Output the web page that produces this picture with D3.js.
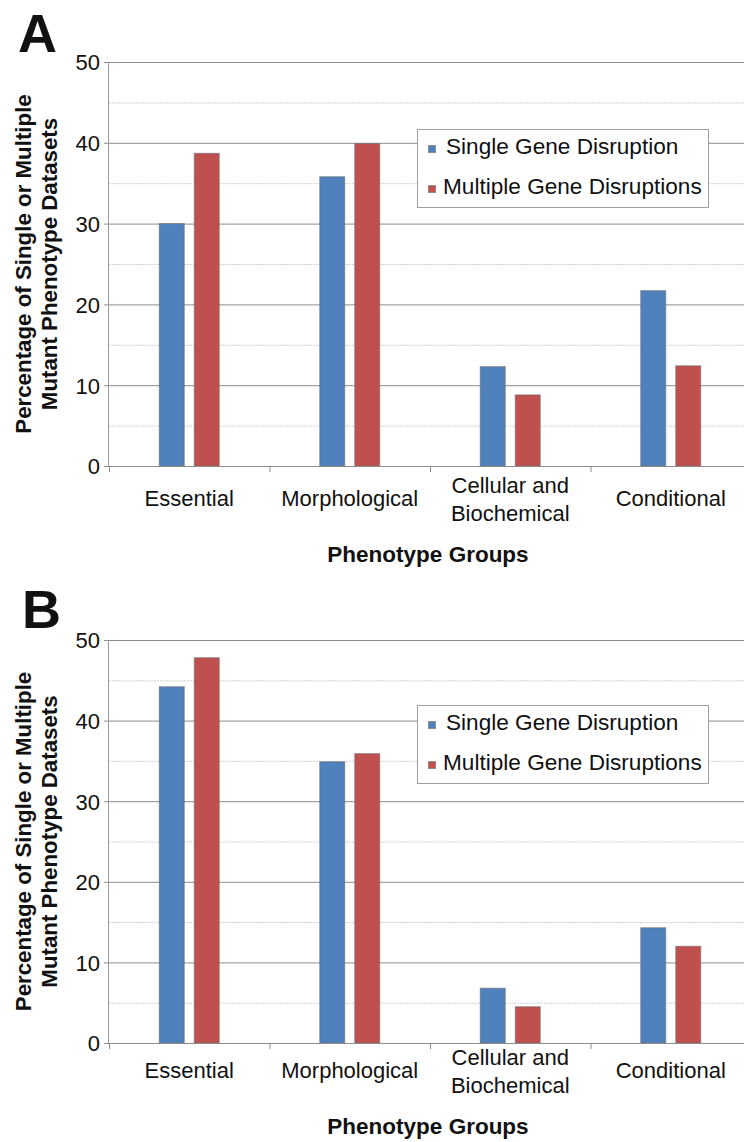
<!DOCTYPE html>
<html>
<head>
<meta charset="utf-8">
<script src="https://cdn.jsdelivr.net/npm/d3@7"></script>
<style>
  body { margin: 0; background: #fff; }
  text { font-family: "Liberation Sans", Arial, sans-serif; fill: #111; }
</style>
</head>
<body>
<script>
// data
const categories = ["Essential", "Morphological", "Cellular and Biochemical", "Conditional"];
const categoryLines = [["Essential"], ["Morphological"], ["Cellular and", "Biochemical"], ["Conditional"]];
const seriesNames = ["Single Gene Disruption", "Multiple Gene Disruptions"];
const singleA = [30.0, 35.8, 12.3, 21.7];
const multipleA = [38.7, 39.9, 8.8, 12.4];
const singleB = [44.2, 34.9, 6.8, 14.3];
const multipleB = [47.8, 35.9, 4.5, 12.0];
const yTicks = [0, 10, 20, 30, 40, 50];
const yMinorTicks = [5, 15, 25, 35, 45];
const colors = ["#4F81BD", "#C0504D"];

const width = 744, height = 1142;
const svg = d3.select("body").append("svg")
  .attr("width", width)
  .attr("height", height);

const panels = [
  {letter: "A", single: singleA, multiple: multipleA, top: 62, bottom: 466, labelY: 506, titleY: 562, legendTop: 129, letterX: 18, letterY: 52},
  {letter: "B", single: singleB, multiple: multipleB, top: 640, bottom: 1043, labelY: 1078, titleY: 1134, legendTop: 705, letterX: 22, letterY: 628}
];

const left = 109, right = 751;

panels.forEach(function (p) {
  let g = svg.append("g");

  let x = d3.scaleBand().domain(categories).range([left, right]).padding(0);
  let xs = d3.scaleBand().domain(seriesNames).range([-30, 30]).paddingInner(2 - 60 / 35);
  let y = d3.scaleLinear().domain([0, 50]).range([p.bottom, p.top]);

  // minor gridlines (dotted)
  g.selectAll(".minor").data(yMinorTicks).enter().append("line")
    .attr("x1", left).attr("x2", right)
    .attr("y1", d => y(d) + 0.5).attr("y2", d => y(d) + 0.5)
    .attr("stroke", "#d0d0d0").attr("stroke-dasharray", "2,1");

  // major gridlines + y axis
  let yAxis = d3.axisLeft(y).tickValues(yTicks).tickSize(-(right - left)).tickPadding(9).tickFormat(d3.format("d"));
  let ya = g.append("g")
    .attr("transform", "translate(" + left + ",0)")
    .call(yAxis);
  ya.select(".domain").remove();
  ya.selectAll(".tick line").attr("stroke", "#8c8c8c").attr("x1", -5);
  ya.selectAll(".tick text")
    .style("font-size", "22px")
    .attr("dy", "0.36em");

  g.append("line")
    .attr("x1", left - 0.5).attr("x2", left - 0.5)
    .attr("y1", p.top).attr("y2", p.bottom + 1)
    .attr("stroke", "#9a9a9a");

  // bars
  let rows = categories.map((c, i) => ({cat: c, vals: [p.single[i], p.multiple[i]]}));
  let grp = g.selectAll(".grp").data(rows).enter().append("g")
    .attr("transform", d => "translate(" + (x(d.cat) + x.bandwidth() / 2) + ",0)");
  grp.selectAll("rect").data(d => d.vals.map((v, k) => ({name: seriesNames[k], v: v, k: k})))
    .enter().append("rect")
    .attr("x", d => xs(d.name))
    .attr("width", xs.bandwidth())
    .attr("y", d => y(d.v))
    .attr("height", d => y(0) - y(d.v))
    .attr("fill", d => colors[d.k])
    .attr("stroke", "#6a6a6a")
    .attr("stroke-opacity", 0.6)
    .attr("stroke-width", 1);

  // x axis baseline and category separators
  g.append("line")
    .attr("x1", left - 5).attr("x2", right)
    .attr("y1", p.bottom + 0.5).attr("y2", p.bottom + 0.5)
    .attr("stroke", "#8c8c8c");
  g.selectAll(".sep").data(categories).enter().append("line")
    .attr("x1", d => x(d) + 0.5).attr("x2", d => x(d) + 0.5)
    .attr("y1", p.bottom).attr("y2", p.bottom + 6)
    .attr("stroke", "#8c8c8c");

  // category labels
  categoryLines.forEach(function (lines, i) {
    let cx = x(categories[i]) + x.bandwidth() / 2;
    let t = g.append("text")
      .attr("text-anchor", "middle")
      .style("font-size", "22px");
    let startY = lines.length === 1 ? p.labelY : p.labelY - 13;
    lines.forEach(function (ln, j) {
      t.append("tspan").attr("x", cx).attr("y", startY + j * 28).text(ln);
    });
  });

  // x title
  g.append("text")
    .attr("x", (left + right) / 2 - 2).attr("y", p.titleY)
    .attr("text-anchor", "middle")
    .style("font-size", "22.5px").style("font-weight", "bold")
    .text("Phenotype Groups");

  // y title
  let cy = (p.top + p.bottom) / 2;
  let yt = g.append("text")
    .attr("transform", "translate(0," + cy + ") rotate(-90)")
    .attr("text-anchor", "middle")
    .style("font-size", "22.3px").style("font-weight", "bold");
  yt.append("tspan").attr("x", 0).attr("y", 31).text("Percentage of Single or Multiple");
  yt.append("tspan").attr("x", 0).attr("y", 57).text("Mutant Phenotype Datasets");

  // panel letter
  g.append("text")
    .attr("x", p.letterX).attr("y", p.letterY)
    .style("font-size", "54px").style("font-weight", "bold")
    .text(p.letter);

  // legend
  let lg = g.append("g").attr("transform", "translate(417," + p.legendTop + ")");
  lg.append("rect")
    .attr("x", 0.5).attr("y", 0.5).attr("width", 291).attr("height", 78)
    .attr("fill", "#fff").attr("stroke", "#a0a0a0");
  seriesNames.forEach(function (s, k) {
    lg.append("rect")
      .attr("x", 11.5).attr("y", 16.5 + k * 40).attr("width", 7).attr("height", 7)
      .attr("fill", colors[k]).attr("stroke", "#6a6a6a").attr("stroke-opacity", 0.6);
    lg.append("text")
      .attr("x", k === 0 ? 29 : 26).attr("y", 25 + k * 40)
      .style("font-size", "22.6px")
      .text(s);
  });
});
</script>
</body>
</html>
